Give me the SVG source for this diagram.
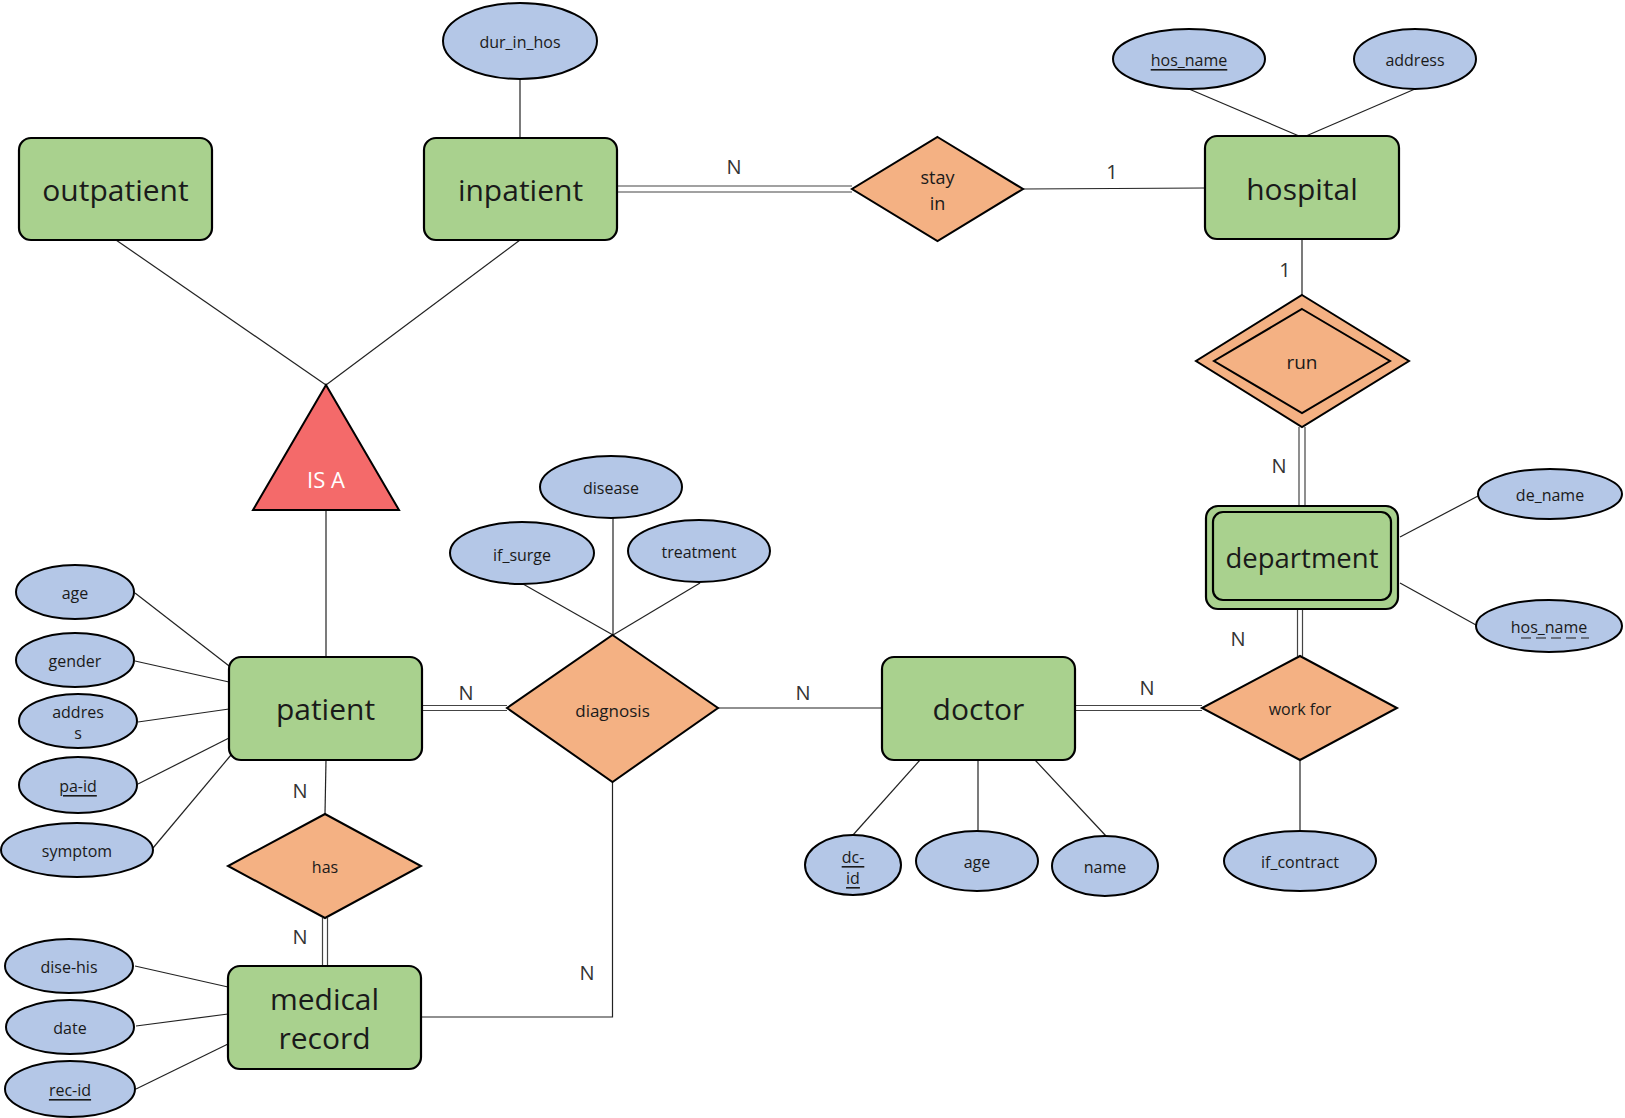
<svg xmlns="http://www.w3.org/2000/svg" width="1625" height="1118" viewBox="0 0 1625 1118">
<style>
.ent{fill:#A9D18E;stroke:#000;stroke-width:2.2}
.rel{fill:#F4B183;stroke:#000;stroke-width:2}
.att{fill:#B4C7E7;stroke:#000;stroke-width:2}
.isa{fill:#F46A6A;stroke:#000;stroke-width:2}
.ln{stroke:#222;stroke-width:1.2;fill:none}
.dl{stroke:#444;stroke-width:1.2;fill:none}
text{font-family:"Open Sans","Noto Sans","Liberation Sans",sans-serif;fill:#1a1a1a;text-anchor:middle;dominant-baseline:central}
.et{font-size:30px}
.rt{font-size:17px}
.at{font-size:16px}
.lb{font-size:20px;fill:#333}
.u{text-decoration:underline}
</style>
<rect width="1625" height="1118" fill="#fff"/>
<g id="connectors">
<line class="ln" x1="520" y1="79" x2="520" y2="138"/>
<line class="ln" x1="116" y1="240" x2="326" y2="385"/>
<line class="ln" x1="520" y1="240" x2="326" y2="385"/>
<line class="ln" x1="326" y1="510" x2="326" y2="657"/>
<line class="dl" x1="617" y1="186" x2="852" y2="186"/>
<line class="dl" x1="617" y1="192" x2="852" y2="192"/>
<line class="ln" x1="1023" y1="189" x2="1205" y2="188"/>
<line class="ln" x1="1189" y1="89" x2="1299" y2="136"/>
<line class="ln" x1="1415" y1="89" x2="1306" y2="136"/>
<line class="ln" x1="1302" y1="239" x2="1302" y2="295"/>
<line class="dl" x1="1299" y1="427" x2="1299" y2="506"/>
<line class="dl" x1="1305" y1="427" x2="1305" y2="506"/>
<line class="ln" x1="1400" y1="537" x2="1478" y2="496"/>
<line class="ln" x1="1400" y1="583" x2="1476" y2="625"/>
<line class="dl" x1="1297.5" y1="609" x2="1297.5" y2="656"/>
<line class="dl" x1="1302.5" y1="609" x2="1302.5" y2="656"/>
<line class="dl" x1="1075" y1="705.5" x2="1202" y2="705.5"/>
<line class="dl" x1="1075" y1="710.5" x2="1202" y2="710.5"/>
<line class="ln" x1="1300" y1="760" x2="1300" y2="831"/>
<line class="ln" x1="920" y1="760" x2="853" y2="835"/>
<line class="ln" x1="978" y1="760" x2="978" y2="831"/>
<line class="ln" x1="1035" y1="760" x2="1106" y2="836"/>
<line class="ln" x1="718" y1="708" x2="882" y2="708"/>
<line class="dl" x1="422" y1="705.5" x2="507" y2="705.5"/>
<line class="dl" x1="422" y1="710.5" x2="507" y2="710.5"/>
<line class="ln" x1="613" y1="518" x2="613" y2="635"/>
<line class="ln" x1="523" y1="584" x2="613" y2="635"/>
<line class="ln" x1="700" y1="583" x2="613" y2="635"/>
<polyline class="ln" points="612.5,782 612.5,1017 421,1017"/>
<line class="ln" x1="326" y1="760" x2="325" y2="814"/>
<line class="dl" x1="322.5" y1="918" x2="322.5" y2="966"/>
<line class="dl" x1="327.5" y1="918" x2="327.5" y2="966"/>
<line class="ln" x1="135" y1="593" x2="233" y2="669"/>
<line class="ln" x1="135" y1="661" x2="229" y2="682"/>
<line class="ln" x1="138" y1="722" x2="229" y2="709"/>
<line class="ln" x1="138" y1="784" x2="229" y2="738"/>
<line class="ln" x1="153" y1="848" x2="231" y2="755"/>
<line class="ln" x1="135" y1="966" x2="228" y2="987"/>
<line class="ln" x1="136" y1="1026" x2="228" y2="1014"/>
<line class="ln" x1="136" y1="1089" x2="228" y2="1044"/>
<text class="lb" x="734" y="166">N</text>
<text class="lb" x="1112" y="171">1</text>
<text class="lb" x="1285" y="269">1</text>
<text class="lb" x="1279" y="465">N</text>
<text class="lb" x="1238" y="638">N</text>
<text class="lb" x="1147" y="687">N</text>
<text class="lb" x="803" y="692">N</text>
<text class="lb" x="466" y="692">N</text>
<text class="lb" x="300" y="790">N</text>
<text class="lb" x="300" y="936">N</text>
<text class="lb" x="587" y="972">N</text>
</g>
<g id="outpatient"><rect class="ent" x="19" y="138" width="193" height="102" rx="12"/><text class="et" x="115.5" y="189">outpatient</text></g>
<g id="inpatient"><rect class="ent" x="424" y="138" width="193" height="102" rx="12"/><text class="et" x="520.5" y="189">inpatient</text></g>
<g id="hospital"><rect class="ent" x="1205" y="136" width="194" height="103" rx="12"/><text class="et" x="1302" y="188">hospital</text></g>
<g id="department"><rect class="ent" x="1206" y="506" width="192" height="103" rx="12"/><rect class="ent" x="1213" y="512" width="178" height="88" rx="10"/><text class="et" x="1302" y="557" style="font-size:27.5px">department</text></g>
<g id="patient"><rect class="ent" x="229" y="657" width="193" height="103" rx="12"/><text class="et" x="325.5" y="708">patient</text></g>
<g id="doctor"><rect class="ent" x="882" y="657" width="193" height="103" rx="12"/><text class="et" x="978.5" y="708">doctor</text></g>
<g id="medical_record"><rect class="ent" x="228" y="966" width="193" height="103" rx="12"/><text class="et" x="324.5" y="998">medical</text><text class="et" x="324.5" y="1037">record</text></g>
<g id="is_a"><polygon class="isa" points="326,385 399,510 253,510"/><text x="326" y="479" style="font-size:22px;fill:#fff">IS A</text></g>
<g id="stay_in"><polygon class="rel" points="937.5,137 1023,189 937.5,241 852,189"/><text class="rt" x="937.5" y="177" style="font-size:18px">stay</text><text class="rt" x="937.5" y="203" style="font-size:18px">in</text></g>
<g id="run"><polygon class="rel" points="1302,295 1409,361 1302,427 1196,361"/><polygon class="rel" points="1302,309 1390,361 1302,413 1214,361"/><text x="1302" y="362" style="font-size:19px">run</text></g>
<g id="diagnosis"><polygon class="rel" points="612.5,635 718,708 612.5,782 507,708"/><text class="rt" x="612.5" y="710">diagnosis</text></g>
<g id="work_for"><polygon class="rel" points="1300,656 1397,708 1300,760 1202,708"/><text class="at" x="1300" y="709">work for</text></g>
<g id="has"><polygon class="rel" points="325,814 421,866 325,918 228,866"/><text class="at" x="325" y="867">has</text></g>
<g id="attr_dur_in_hos"><ellipse class="att" cx="520" cy="41" rx="77" ry="38"/><text class="at" x="520" y="42">dur_in_hos</text></g>
<g id="attr_hos_name"><ellipse class="att" cx="1189" cy="59" rx="76" ry="30"/><text class="at u" x="1189" y="60">hos_name</text></g>
<g id="attr_address"><ellipse class="att" cx="1415" cy="59" rx="61" ry="30"/><text class="at" x="1415" y="60">address</text></g>
<g id="attr_de_name"><ellipse class="att" cx="1550" cy="494" rx="72" ry="25"/><text class="at" x="1550" y="495">de_name</text></g>
<g id="attr_dept_hos_name"><ellipse class="att" cx="1549" cy="626" rx="73" ry="26"/><text class="at" x="1549" y="627">hos_name</text><line x1="1521" y1="638" x2="1589" y2="638" stroke="#1a1a1a" stroke-width="1.2" stroke-dasharray="10,5"/></g>
<g id="attr_age"><ellipse class="att" cx="75" cy="592" rx="59" ry="27"/><text class="at" x="75" y="593">age</text></g>
<g id="attr_gender"><ellipse class="att" cx="75" cy="660" rx="59" ry="27"/><text class="at" x="75" y="661">gender</text></g>
<g id="attr_address_p"><ellipse class="att" cx="78" cy="721" rx="59" ry="27"/><text class="at" x="78" y="712">addres</text><text class="at" x="78" y="733">s</text></g>
<g id="attr_pa_id"><ellipse class="att" cx="78" cy="785" rx="59" ry="28"/><text class="at u" x="78" y="786">pa-id</text></g>
<g id="attr_symptom"><ellipse class="att" cx="77" cy="850" rx="76" ry="27"/><text class="at" x="77" y="851">symptom</text></g>
<g id="attr_if_surge"><ellipse class="att" cx="522" cy="553" rx="72" ry="31"/><text class="at" x="522" y="555">if_surge</text></g>
<g id="attr_disease"><ellipse class="att" cx="611" cy="487" rx="71" ry="31"/><text class="at" x="611" y="488">disease</text></g>
<g id="attr_treatment"><ellipse class="att" cx="699" cy="551" rx="71" ry="31"/><text class="at" x="699" y="552">treatment</text></g>
<g id="attr_dise_his"><ellipse class="att" cx="69" cy="966" rx="64" ry="27"/><text class="at" x="69" y="967">dise-his</text></g>
<g id="attr_date"><ellipse class="att" cx="70" cy="1027" rx="64" ry="27"/><text class="at" x="70" y="1028">date</text></g>
<g id="attr_rec_id"><ellipse class="att" cx="70" cy="1089" rx="65" ry="28"/><text class="at u" x="70" y="1090">rec-id</text></g>
<g id="attr_dc_id"><ellipse class="att" cx="853" cy="865" rx="48" ry="30"/><text class="at u" x="853" y="857">dc-</text><text class="at u" x="853" y="878">id</text></g>
<g id="attr_doc_age"><ellipse class="att" cx="977" cy="861" rx="61" ry="30"/><text class="at" x="977" y="862">age</text></g>
<g id="attr_name"><ellipse class="att" cx="1105" cy="866" rx="53" ry="30"/><text class="at" x="1105" y="867">name</text></g>
<g id="attr_if_contract"><ellipse class="att" cx="1300" cy="861" rx="76" ry="30"/><text class="at" x="1300" y="862">if_contract</text></g>
</svg>
